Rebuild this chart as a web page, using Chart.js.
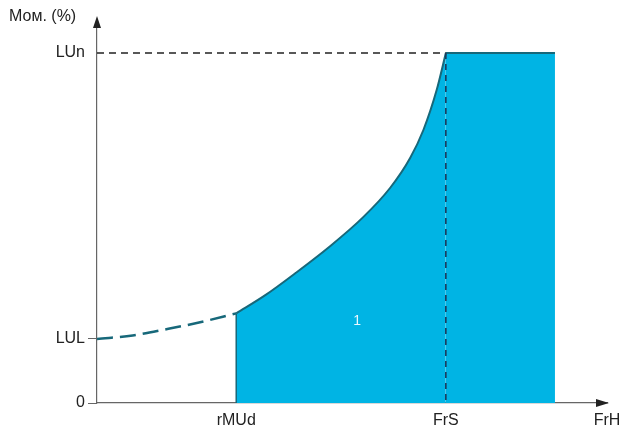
<!DOCTYPE html>
<html>
<head>
<meta charset="utf-8">
<script src="https://cdn.jsdelivr.net/npm/chart.js@4"></script>
<style>
  body { margin: 0; background: #fff; }
  #wrap { width: 620px; height: 430px; }
</style>
</head>
<body>
<div id="wrap"><canvas id="chart"></canvas></div>
<script>
// dashed part of the curve (below rMUd)
const dashX = [0, 7, 14, 20, 27.3];
const dashY = [18.3, 19.3, 21.2, 23.0, 25.6];
// solid curve from rMUd up to FrS
const curveX = [27.3, 33, 39, 45.7, 52.2, 57.5, 61.4, 64, 66.6, 68.4];
const curveY = [25.6, 30.8, 37.2, 44.8, 53.1, 61.5, 70, 78, 89.4, 100];
// flat top after FrS
const flatX = [68.4, 89.8];
const flatY = [100, 100];

const yTickVals = [0, 18.3, 100];
const yTickLabels = ["0", "LUL", "LUn"];
const xTickVals = [27.3, 68.4, 100];
const xTickLabels = ["rMUd", "FrS", "FrH"];

const fillCol = "rgb(0,180,228)";
const lineCol = "#17687a";

function pts(xs, ys) {
  return xs.map((x, i) => ({ x: x, y: ys[i] }));
}

const extras = {
  id: "extras",
  afterDatasetsDraw(chart) {
    const ctx = chart.ctx;
    const x = chart.scales.x, y = chart.scales.y;
    const x0 = x.getPixelForValue(0);
    const y0 = y.getPixelForValue(0);
    const xs = x.getPixelForValue(xTickVals[1]);
    const yn = y.getPixelForValue(yTickVals[2]);
    ctx.save();
    // LUn guide
    ctx.strokeStyle = "#222";
    ctx.lineWidth = 1.3;
    ctx.setLineDash([7, 5]);
    ctx.beginPath();
    ctx.moveTo(x0, yn);
    ctx.lineTo(xs, yn);
    ctx.stroke();
    // FrS guide
    ctx.strokeStyle = "#1b3a5c";
    ctx.lineWidth = 1.6;
    ctx.setLineDash([6, 5]);
    ctx.beginPath();
    ctx.moveTo(xs, yn);
    ctx.lineTo(xs, y0);
    ctx.stroke();
    ctx.setLineDash([]);
    // rMUd edge
    ctx.strokeStyle = lineCol;
    ctx.lineWidth = 1.5;
    const xr = x.getPixelForValue(xTickVals[0]);
    ctx.beginPath();
    ctx.moveTo(xr, y.getPixelForValue(curveY[0]));
    ctx.lineTo(xr, y0);
    ctx.stroke();
    // arrows
    ctx.fillStyle = "#222";
    ctx.beginPath();
    ctx.moveTo(x0, 16);
    ctx.lineTo(x0 - 4, 28);
    ctx.lineTo(x0 + 4, 28);
    ctx.fill();
    const xe = chart.chartArea.right;
    ctx.beginPath();
    ctx.moveTo(xe + 2, y0);
    ctx.lineTo(xe - 11, y0 - 4);
    ctx.lineTo(xe - 11, y0 + 4);
    ctx.fill();
    // texts
    ctx.font = "16px 'Liberation Sans', Arial, sans-serif";
    ctx.fillStyle = "#222";
    ctx.textBaseline = "middle";
    ctx.textAlign = "left";
    ctx.fillText("Мом. (%)", 9, 17);
    ctx.font = "14px 'Liberation Sans', Arial, sans-serif";
    ctx.fillStyle = "#eaf8ff";
    ctx.textAlign = "center";
    ctx.fillText("1", x.getPixelForValue(51), y.getPixelForValue(23.5));
    ctx.restore();
  }
};

new Chart(document.getElementById("chart"), {
  type: "line",
  data: {
    datasets: [
      {
        data: pts(dashX, dashY),
        borderColor: lineCol,
        borderWidth: 2.5,
        borderDash: [16, 7],
        cubicInterpolationMode: "monotone",
        pointRadius: 0,
        fill: false,
        order: 1
      },
      {
        data: pts(curveX, curveY),
        borderColor: lineCol,
        borderWidth: 2,
        backgroundColor: fillCol,
        cubicInterpolationMode: "monotone",
        pointRadius: 0,
        fill: "origin",
        order: 2
      },
      {
        data: pts(flatX, flatY),
        borderColor: lineCol,
        borderWidth: 2,
        backgroundColor: fillCol,
        pointRadius: 0,
        fill: "origin",
        order: 3
      }
    ]
  },
  options: {
    responsive: true,
    maintainAspectRatio: false,
    animation: false,
    layout: { padding: { left: 0, right: 13, top: 25, bottom: 0 } },
    plugins: { legend: { display: false }, tooltip: { enabled: false } },
    scales: {
      x: {
        type: "linear",
        min: 0,
        max: 100,
        afterBuildTicks: s => { s.ticks = xTickVals.map(v => ({ value: v })); },
        afterFit: s => { s.height = 27; s.paddingLeft = 0; s.paddingRight = 0; },
        ticks: {
          autoSkip: false,
          maxRotation: 0,
          padding: 8,
          color: "#222",
          font: { family: "'Liberation Sans', Arial, sans-serif", size: 16 },
          callback: v => xTickLabels[xTickVals.indexOf(v)]
        },
        grid: { drawOnChartArea: false, drawTicks: false },
        border: { color: "#666", width: 1.2 }
      },
      y: {
        type: "linear",
        min: 0,
        max: 108,
        afterBuildTicks: s => { s.ticks = yTickVals.map(v => ({ value: v })); },
        afterFit: s => { s.width = 97; s.paddingTop = 0; s.paddingBottom = 0; },
        ticks: {
          autoSkip: false,
          padding: 3,
          color: "#222",
          font: { family: "'Liberation Sans', Arial, sans-serif", size: 16 },
          callback: v => yTickLabels[yTickVals.indexOf(v)]
        },
        grid: {
          drawOnChartArea: false,
          tickLength: 9,
          color: c => (c.tick && c.tick.value === 100 ? "rgba(0,0,0,0)" : "#666")
        },
        border: { color: "#666", width: 1.2 }
      }
    }
  },
  plugins: [extras]
});
</script>
</body>
</html>
